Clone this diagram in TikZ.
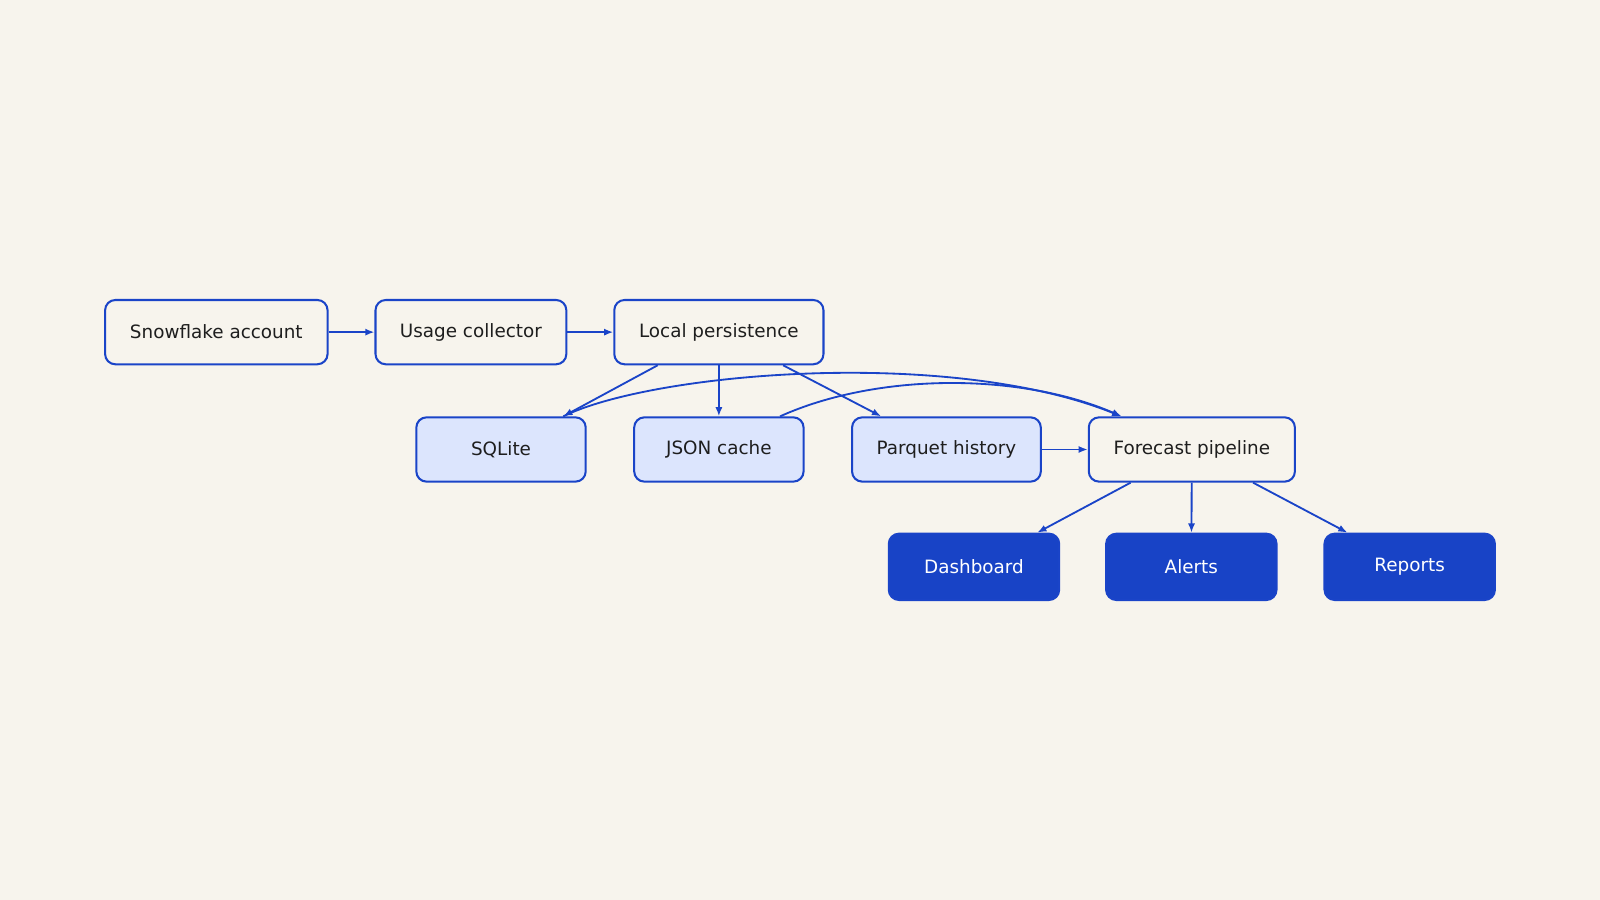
\documentclass[tikz,border=0pt]{standalone}
\usepackage{fontspec}
\setmainfont{DejaVu Sans}
\usetikzlibrary{arrows.meta}
\definecolor{bg}{HTML}{F7F4ED}
\definecolor{bl}{HTML}{1A44C8}
\definecolor{lf}{HTML}{DCE5FD}
\definecolor{df}{HTML}{1843C6}
\definecolor{tx}{HTML}{1E1E1E}
\begin{document}
\begin{tikzpicture}[x=1pt,y=-1pt,
  box/.style={draw=bl,line width=2pt,rounded corners=10pt,minimum height=63pt,font=\fontsize{18}{20}\selectfont,text=tx,fill=bg,inner sep=0pt},
  lbox/.style={box,fill=lf},
  dbox/.style={box,fill=df,text=white,minimum height=65pt},
  ar/.style={draw=bl,line width=1.8pt,-{Latex[length=9pt,width=7pt]}}]
\fill[bg] (0,0) rectangle (1568,882);
\useasboundingbox (0,0) rectangle (1568,882);
\node[box,minimum width=218pt] (sf) at (212,325.5) {Snowflake account};
\node[box,minimum width=187pt] (uc) at (461.5,325.5) {Usage collector};
\node[box,minimum width=205pt] (lp) at (704.5,325.5) {Local persistence};
\node[lbox,minimum width=166pt] (sq) at (491,440.5) {SQLite};
\node[lbox,minimum width=166pt] (js) at (704.5,440.5) {JSON cache};
\node[lbox,minimum width=185pt] (pq) at (927.5,440.5) {Parquet history};
\node[box,minimum width=202pt] (fc) at (1168,440.5) {Forecast pipeline};
\node[dbox,minimum width=167pt] (db) at (954.5,555.5) {Dashboard};
\node[dbox,minimum width=167pt] (al) at (1167.5,555.5) {Alerts};
\node[dbox,minimum width=167pt] (rp) at (1381.5,555.5) {Reports};
\draw[ar] (sf) -- (uc);
\draw[ar] (uc) -- (lp);
\draw[ar] ([xshift=-60]lp.south) -- ([xshift=61]sq.north);
\draw[ar] (lp) -- (js);
\draw[ar] ([xshift=63]lp.south) -- ([xshift=-64]pq.north);
\draw[ar] ([xshift=61]sq.north) .. controls (640,365) and (930,340) .. ([xshift=-69]fc.north);
\draw[ar] ([xshift=60]js.north) .. controls (860,365) and (1000,365) .. ([xshift=-69]fc.north);
\draw[ar] (pq) -- (fc);
\draw[ar] ([xshift=-60]fc.south) -- ([xshift=62]db.north);
\draw[ar] (fc) -- (al);
\draw[ar] ([xshift=60]fc.south) -- ([xshift=-61]rp.north);
\end{tikzpicture}
\end{document}
